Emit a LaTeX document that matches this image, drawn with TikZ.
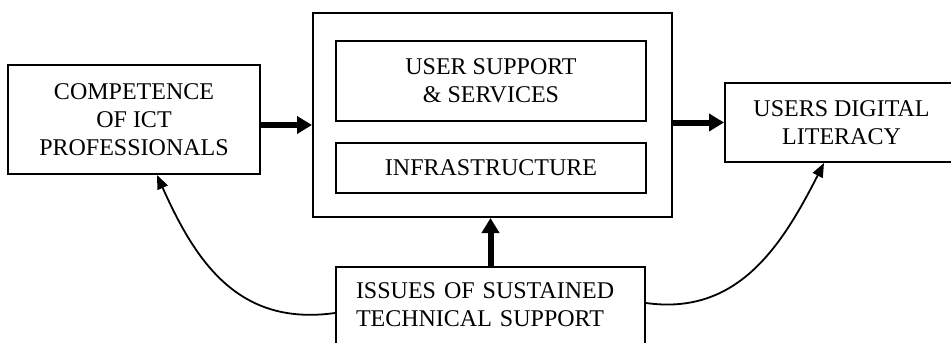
\documentclass[tikz,border=0pt]{standalone}
\usepackage{fontspec}
\setmainfont{Liberation Serif}
\usepackage{tikz}
\usetikzlibrary{arrows.meta}
\usetikzlibrary{positioning}
\tikzset{
    box/.style={
        draw,
        line width=1pt,
        inner sep=0pt,
        align=center,
        font=\fontsize{12}{14}\selectfont
    },
    thickarrow/.style={
        line width=3pt,
        black,
        -{Triangle[length=7.5pt, width=8.5pt]}
    },
    thinarrow/.style={
        line width=0.9pt,
        black,
        -{Triangle[length=7pt, width=5.5pt]}
    }
}

\begin{document}
\begin{tikzpicture}[x=0.5pt,y=-0.5pt]
    \useasboundingbox (0,0) rectangle (951,342);
    \clip (0,0) rectangle (951,342);

    % boxes
    \node[box, minimum width=126pt, minimum height=54.5pt] (comp) at (134,119.5)
        {COMPETENCE\\OF ICT\\PROFESSIONALS};
    \node[box, minimum width=179.5pt, minimum height=102pt] (main) at (492.5,115) {};
    \node[box, minimum width=155pt, minimum height=40pt] (usr) at (491,81)
        {USER SUPPORT\\\& SERVICES};
    \node[box, minimum width=155pt, minimum height=25pt] (infra) at (491,168)
        {INFRASTRUCTURE};
    \node[box, minimum width=116.5pt, minimum height=39.5pt] (lit) at (841.5,122.5)
        {USERS DIGITAL\\LITERACY};
    % runs off the bottom edge
    \node[box, anchor=north, align=left, inner xsep=10pt, inner ysep=8pt,
          text width=134.5pt, text depth=30pt] (issues) at (490.5,266)
        {ISSUES OF SUSTAINED\\TECHNICAL SUPPORT};

    % thick arrows
    \draw[thickarrow] ([yshift=-2.75pt]comp.east) -- ([yshift=-2.75pt]comp.east -| main.west);
    \draw[thickarrow] (main.east |- lit.west) -- (lit.west);
    \draw[thickarrow] (issues.north) -- (issues.north |- main.south);

    % feedback curves
    \draw[thinarrow] ([yshift=-23.5pt]issues.north west) to[out=188,in=-66,looseness=1.1] ([xshift=11.5pt]comp.south);
    \draw[thinarrow] ([yshift=-18.5pt]issues.north east) to[out=-8,in=-117,looseness=1.05] ([xshift=-8.75pt]lit.south);
\end{tikzpicture}
\end{document}
